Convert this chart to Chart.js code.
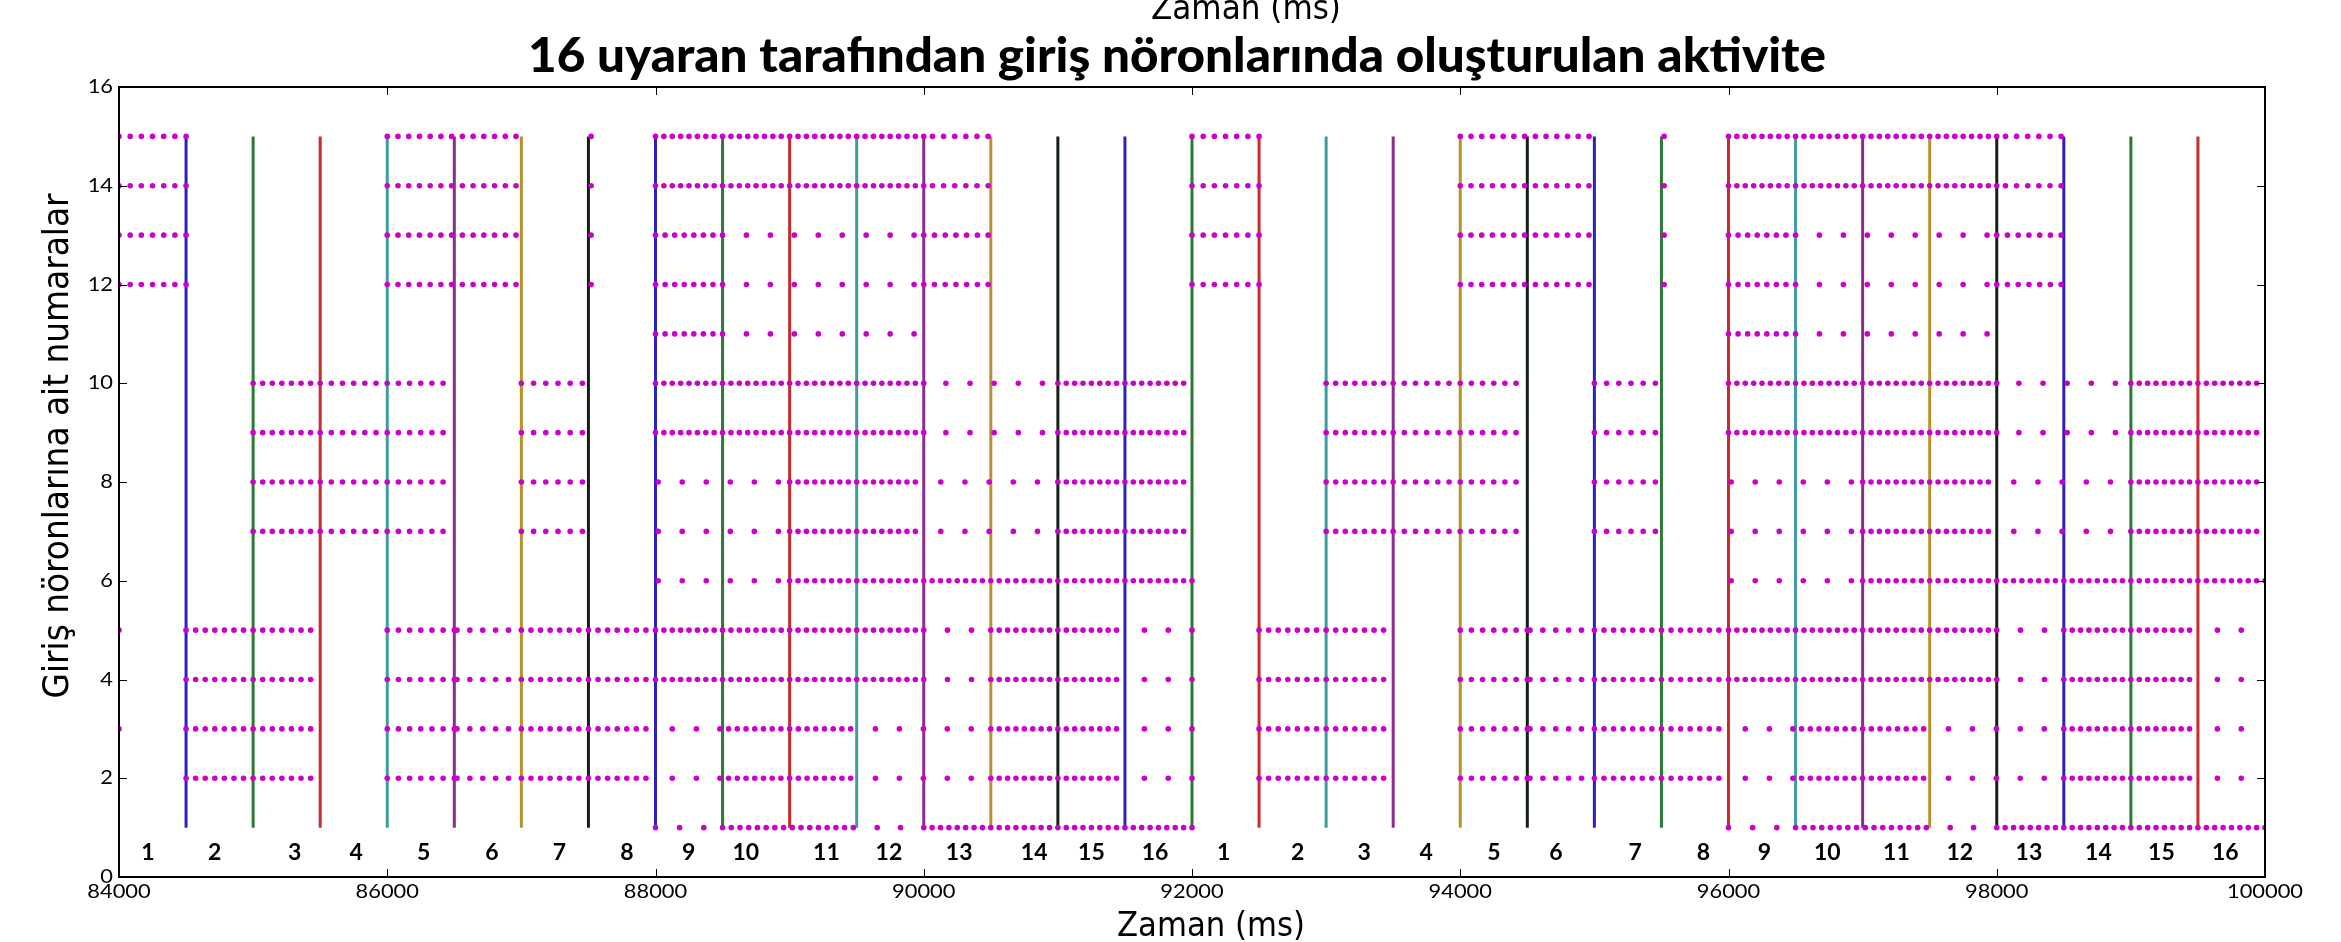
<!DOCTYPE html>
<html>
<head>
<meta charset="utf-8">
<script src="https://cdn.jsdelivr.net/npm/chart.js@4.4.1/dist/chart.umd.min.js"></script>
<style>
  html, body { margin: 0; padding: 0; background: #fff; }
  #wrap { width: 2341px; height: 942px; }
</style>
</head>
<body>
<div id="wrap"><canvas id="rasterChart" width="2341" height="942"></canvas></div>
<script>
// axis ticks
const xTickValues = [84000, 86000, 88000, 90000, 92000, 94000, 96000, 98000, 100000];
const yTickValues = [0, 2, 4, 6, 8, 10, 12, 14, 16];

// the 16 stimuli are shown twice, 500 ms each
const cycleStarts = [84000, 92000];
const boundaryTimes = [
  84500, 85000, 85500, 86000, 86500, 87000, 87500, 88000, 88500, 89000, 89500, 90000, 90500, 91000, 91500, 92000,
  92500, 93000, 93500, 94000, 94500, 95000, 95500, 96000, 96500, 97000, 97500, 98000, 98500, 99000, 99500
];
const stimulusNumbers = [1, 2, 3, 4, 5, 6, 7, 8, 9, 10, 11, 12, 13, 14, 15, 16];
const stimulusLabelTimes = [
  84216, 84713, 85309, 85768, 86272, 86781, 87283, 87787, 88248, 88673, 89274, 89740, 90264, 90823, 91250, 91724,
  92236, 92788, 93283, 93746, 94251, 94714, 95304, 95813, 96267, 96737, 97252, 97725, 98240, 98758, 99228, 99704
];

// spike runs per input neuron, ms from cycle start: [first spike, last spike, interval]
const neuron15 = [[0, 500, 83.33], [2000, 2960, 80], [3520, 3520, 1], [4000, 6000, 62.5], [6065, 6480, 83]];
const neuron14 = [[0, 500, 83.33], [2000, 2960, 80], [3520, 3520, 1], [4000, 6000, 62.5], [6065, 6480, 83]];
const neuron13 = [[0, 500, 83.33], [2000, 2960, 80], [3520, 3520, 1], [4000, 4500, 71.43], [4678, 5928, 178.57], [6000, 6480, 80]];
const neuron12 = [[0, 500, 83.33], [2000, 2960, 80], [3520, 3520, 1], [4000, 4500, 71.43], [4678, 5928, 178.57], [6000, 6480, 80]];
const neuron11 = [[4000, 4500, 71.43], [4678, 5928, 178.57]];
const neuron10 = [[1000, 1500, 71.43], [1583, 2417, 83.33], [3000, 3455, 91], [4000, 6000, 62.5], [6165, 6885, 180], [7000, 7938, 62.5]];
const neuron9 = [[1000, 1500, 71.43], [1583, 2417, 83.33], [3000, 3455, 91], [4000, 6000, 62.5], [6165, 6885, 180], [7000, 7938, 62.5]];
const neuron8 = [[1000, 1500, 71.43], [1583, 2417, 83.33], [3000, 3455, 91], [4020, 4916, 179.2], [5000, 5938, 62.5], [6127, 6848, 180.25], [7000, 7938, 62.5]];
const neuron7 = [[1000, 1500, 71.43], [1583, 2417, 83.33], [3000, 3455, 91], [4020, 4916, 179.2], [5000, 5938, 62.5], [6127, 6848, 180.25], [7000, 7938, 62.5]];
const neuron6 = [[4020, 4916, 179.2], [5000, 8000, 62.5]];
const neuron5 = [[500, 1429, 71.43], [2000, 2500, 83.33], [2520, 2904, 96], [3000, 4000, 71.43], [4062.5, 6000, 62.5], [6177, 6356, 179], [6500, 7437.5, 62.5], [7645, 7823, 178]];
const neuron4 = [[500, 1429, 71.43], [2000, 2500, 83.33], [2520, 2904, 96], [3000, 4000, 71.43], [4062.5, 6000, 62.5], [6177, 6356, 179], [6500, 7437.5, 62.5], [7645, 7823, 178]];
const neuron3 = [[500, 1429, 71.43], [2000, 2500, 83.33], [2520, 2904, 96], [3000, 3929, 71.43], [4125, 4305, 180], [4480, 5455, 65], [5640, 6354, 178.5], [6500, 7437.5, 62.5], [7645, 7823, 178]];
const neuron2 = [[500, 1429, 71.43], [2000, 2500, 83.33], [2520, 2904, 96], [3000, 3929, 71.43], [4125, 4305, 180], [4480, 5455, 65], [5640, 6354, 178.5], [6500, 7437.5, 62.5], [7645, 7823, 178]];
const neuron1 = [[4000, 4360, 180], [4500, 5475, 65], [5653, 5827, 174], [6000, 8000, 62.5]];
// single spikes sitting on the block edges: [time, neuron]
const edgeSpikes = [[84000, 5], [84000, 3], [92000, 5], [92000, 4], [92000, 3], [92000, 2]];

// matplotlib style colour cycle of the stimulus lines
const lineColors = ['#2b22b8', '#2a7a35', '#c92a2a', '#3f9ba0', '#8a2c8c', '#b5922a', '#152015'];

const neuronRuns = [neuron1, neuron2, neuron3, neuron4, neuron5, neuron6, neuron7, neuron8,
  neuron9, neuron10, neuron11, neuron12, neuron13, neuron14, neuron15];

const spikePoints = [];
cycleStarts.forEach(c => {
  neuronRuns.forEach((runs, i) => {
    runs.forEach(([first, last, step]) => {
      for (let k = 0; first + k * step <= last + 0.5; k++) {
        spikePoints.push({ x: c + first + k * step, y: i + 1 });
      }
    });
  });
});
edgeSpikes.forEach(([t, n]) => spikePoints.push({ x: t, y: n }));

const lineDatasets = boundaryTimes.map((t, i) => ({
  type: 'line',
  data: [{ x: t, y: 1 }, { x: t, y: 15 }],
  borderColor: lineColors[i % lineColors.length],
  borderWidth: 3,
  pointRadius: 0,
  order: 2
}));

function drawText(ctx, text, x, y, opts) {
  ctx.save();
  ctx.font = opts.font;
  ctx.fillStyle = '#000';
  ctx.textAlign = opts.align || 'center';
  ctx.textBaseline = opts.baseline || 'alphabetic';
  ctx.translate(x, y);
  if (opts.rotate) ctx.rotate(opts.rotate);
  let sx = opts.stretch || 1;
  if (opts.width) sx = opts.width / ctx.measureText(text).width;
  ctx.scale(sx, 1);
  ctx.fillText(text, 0, 0);
  ctx.restore();
}

const framePlugin = {
  id: 'frameAndText',
  afterDraw(chart) {
    const ctx = chart.ctx;
    const area = chart.chartArea;
    const xs = chart.scales.x;
    const ys = chart.scales.y;

    ctx.save();
    ctx.strokeStyle = '#000';
    ctx.lineWidth = 1;
    xTickValues.forEach(v => {
      const px = Math.round(xs.getPixelForValue(v)) + 0.5;
      ctx.beginPath();
      ctx.moveTo(px, area.bottom); ctx.lineTo(px, area.bottom - 8);
      ctx.moveTo(px, area.top); ctx.lineTo(px, area.top + 8);
      ctx.stroke();
    });
    yTickValues.forEach(v => {
      const py = Math.round(ys.getPixelForValue(v)) + 0.5;
      ctx.beginPath();
      ctx.moveTo(area.left, py); ctx.lineTo(area.left + 8, py);
      ctx.moveTo(area.right, py); ctx.lineTo(area.right - 8, py);
      ctx.stroke();
    });
    ctx.lineWidth = 2;
    ctx.strokeRect(area.left, area.top, area.right - area.left, area.bottom - area.top);
    ctx.restore();

    xTickValues.forEach(v => {
      drawText(ctx, String(v), xs.getPixelForValue(v), 898, { font: '19px Lato', stretch: 1.15 });
    });
    yTickValues.forEach(v => {
      drawText(ctx, String(v), area.left - 6, ys.getPixelForValue(v), { font: '19px Lato', stretch: 1.15, align: 'right', baseline: 'middle' });
    });
    stimulusLabelTimes.forEach((t, i) => {
      drawText(ctx, String(stimulusNumbers[i % stimulusNumbers.length]), xs.getPixelForValue(t), ys.getPixelForValue(0.5),
        { font: 'bold 23px Lato', baseline: 'middle' });
    });

    drawText(ctx, '16 uyaran tarafından giriş nöronlarında oluşturulan aktivite', 1177, 72, { font: '900 48px Lato', width: 1298 });
    drawText(ctx, 'Zaman (ms)', 1246, 19, { font: '33px "DejaVu Sans"', width: 190 });
    drawText(ctx, 'Zaman (ms)', 1211, 936, { font: '33px "DejaVu Sans"', width: 188 });
    drawText(ctx, 'Giriş nöronlarına ait numaralar', 68, 446, { font: '36px "DejaVu Sans"', width: 505, rotate: -Math.PI / 2 });
  }
};

new Chart(document.getElementById('rasterChart'), {
  type: 'scatter',
  data: {
    datasets: [
      {
        type: 'scatter',
        data: spikePoints,
        backgroundColor: '#cc00cc',
        borderWidth: 0,
        pointRadius: 2.8,
        clip: 0,
        order: 1
      },
      ...lineDatasets
    ]
  },
  options: {
    responsive: false,
    animation: false,
    events: [],
    layout: {
      padding: { left: 119, right: 76, top: 87, bottom: 65 }
    },
    plugins: {
      legend: { display: false },
      tooltip: { enabled: false }
    },
    scales: {
      x: { type: 'linear', min: 84000, max: 100000, display: false },
      y: { type: 'linear', min: 0, max: 16, display: false }
    }
  },
  plugins: [framePlugin]
});
</script>
</body>
</html>
